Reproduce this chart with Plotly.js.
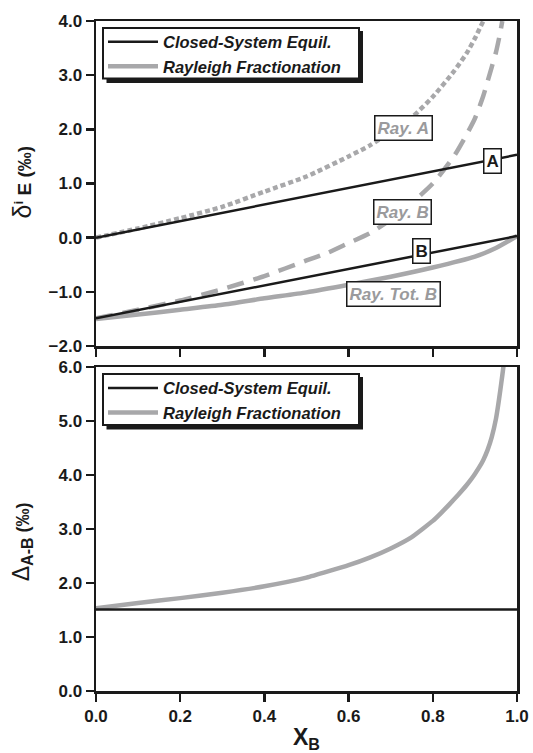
<!DOCTYPE html>
<html>
<head>
<meta charset="utf-8">
<script src="https://cdn.plot.ly/plotly-3.0.1.min.js"></script>
<style>html,body{margin:0;padding:0;background:#fff;}</style>
</head>
<body>
<div id="chart" style="width:533px;height:753px;"></div>
<script>
// ---------- data ----------
var xClosed = [0, 1];
var closedA = [0.0, 1.53];
var closedB = [-1.49, 0.03];

var xRayA = [0, 0.1, 0.2, 0.3, 0.4, 0.5, 0.6, 0.65, 0.7, 0.75, 0.8, 0.85, 0.88, 0.9, 0.92];
var rayA  = [0, 0.17, 0.36, 0.57, 0.85, 1.13, 1.50, 1.70, 1.95, 2.22, 2.60, 3.07, 3.40, 3.68, 4.0];

var xRayB = [0, 0.1, 0.2, 0.3, 0.4, 0.5, 0.55, 0.6, 0.65, 0.7, 0.75, 0.8, 0.85, 0.88, 0.9, 0.92, 0.94, 0.95, 0.96, 0.965];
var rayB  = [-1.49, -1.33, -1.16, -0.95, -0.71, -0.42, -0.28, -0.10, 0.08, 0.33, 0.64, 1.00, 1.50, 1.90, 2.20, 2.62, 3.15, 3.42, 3.78, 4.0];

var xRayTotB = [0, 0.1, 0.2, 0.3, 0.4, 0.5, 0.6, 0.7, 0.8, 0.9, 0.95, 1.0];
var rayTotB  = [-1.50, -1.42, -1.33, -1.24, -1.12, -1.01, -0.87, -0.72, -0.55, -0.35, -0.19, 0.03];

var xDelta = [0, 1];
var deltaClosed = [1.51, 1.51];

var xDeltaRay = [0, 0.1, 0.2, 0.3, 0.4, 0.5, 0.6, 0.65, 0.7, 0.75, 0.8, 0.82, 0.84, 0.86, 0.88, 0.89, 0.9, 0.91, 0.92, 0.93, 0.94, 0.95, 0.955, 0.96, 0.965, 0.968];
var deltaRay  = [1.53, 1.63, 1.72, 1.82, 1.94, 2.10, 2.33, 2.47, 2.64, 2.85, 3.15, 3.30, 3.46, 3.63, 3.81, 3.91, 4.02, 4.14, 4.28, 4.46, 4.70, 5.04, 5.28, 5.55, 5.84, 6.02];

var legendNames = ['Closed-System Equil.', 'Rayleigh Fractionation'];
var curveLabels = ['Ray. A', 'A', 'Ray. B', 'B', 'Ray. Tot. B'];
var labelX = [0.730, 0.942, 0.728, 0.774, 0.707];
var labelY = [2.02, 1.41, 0.47, -0.25, -1.04];

var xTicks = [0, 0.2, 0.4, 0.6, 0.8, 1.0];

// ---------- styles ----------
var BLACK = '#1a1a1a';
var GRAY = '#a8a8aa';
var FONT = '"Liberation Sans", Arial, Helvetica, sans-serif';
var W = 533, H = 753, ML = 96, MR = 16, MT = 21, MB = 62;
var PW = W - ML - MR, PH = H - MT - MB;
function px2x(p) { return (p - ML) / PW; }
function px2y(p) { return (H - MB - p) / PH; }

var traces = [
  {x: xRayA, y: rayA, xaxis: 'x', yaxis: 'y', mode: 'lines', showlegend: false,
   line: {color: GRAY, width: 4.5, dash: '5px,3px', shape: 'spline', smoothing: 0.6}},
  {x: xRayB, y: rayB, xaxis: 'x', yaxis: 'y', mode: 'lines', showlegend: false,
   line: {color: GRAY, width: 4.5, dash: '17px,10px', shape: 'spline', smoothing: 0.6}},
  {x: xRayTotB, y: rayTotB, xaxis: 'x', yaxis: 'y', mode: 'lines', name: legendNames[1],
   legend: 'legend', legendrank: 2,
   line: {color: GRAY, width: 4.5, shape: 'spline', smoothing: 0.6}},
  {x: xClosed, y: closedA, xaxis: 'x', yaxis: 'y', mode: 'lines', name: legendNames[0],
   legend: 'legend', legendrank: 1,
   line: {color: BLACK, width: 2.5}},
  {x: xClosed, y: closedB, xaxis: 'x', yaxis: 'y', mode: 'lines', showlegend: false,
   line: {color: BLACK, width: 2.5}},
  {x: xDeltaRay, y: deltaRay, xaxis: 'x2', yaxis: 'y2', mode: 'lines', name: legendNames[1],
   legend: 'legend2', legendrank: 2,
   line: {color: GRAY, width: 4.5, shape: 'spline', smoothing: 0.4}},
  {x: xDelta, y: deltaClosed, xaxis: 'x2', yaxis: 'y2', mode: 'lines', name: legendNames[0],
   legend: 'legend2', legendrank: 1,
   line: {color: BLACK, width: 2.5}}
];

function axisBase() {
  return {
    showline: true, linewidth: 2.5, linecolor: BLACK, mirror: true,
    ticks: 'outside', ticklen: 8, tickwidth: 2.5, tickcolor: BLACK,
    showgrid: false, zeroline: false, fixedrange: true,
    tickfont: {family: FONT, size: 17, weight: 'bold', color: BLACK}
  };
}

var xa = axisBase();
Object.assign(xa, {anchor: 'y', domain: [0, 1], range: [0, 1], tickvals: xTicks, showticklabels: false});
var xa2 = axisBase();
Object.assign(xa2, {anchor: 'y2', domain: [0, 1], range: [0, 1], tickvals: xTicks, tickformat: '.1f'});
var ya = axisBase();
Object.assign(ya, {anchor: 'x', domain: [px2y(346), 1], range: [-2, 4], dtick: 1, tick0: 0, tickformat: '.1f'});
var ya2 = axisBase();
Object.assign(ya2, {anchor: 'x2', domain: [0, px2y(367)], range: [0, 6], dtick: 1, tick0: 0, tickformat: '.1f'});

function legendBox(ytopPx) {
  return {
    x: px2x(103), y: px2y(ytopPx), xanchor: 'left', yanchor: 'top',
    bgcolor: 'rgba(0,0,0,0)', borderwidth: 0,
    font: {family: FONT, size: 16.5, weight: 'bold', style: 'italic', color: BLACK},
    itemwidth: 50, traceorder: 'normal', tracegroupgap: 0
  };
}

// legend frames with drop shadow (pixel positions of box edges)
function frame(top, bottom) {
  return [
    {type: 'rect', xref: 'paper', yref: 'paper', layer: 'above',
     x0: px2x(106.5), x1: px2x(363), y0: px2y(bottom + 4.5), y1: px2y(top + 3),
     fillcolor: BLACK, line: {width: 0}},
    {type: 'rect', xref: 'paper', yref: 'paper', layer: 'above',
     x0: px2x(103), x1: px2x(359), y0: px2y(bottom), y1: px2y(top),
     fillcolor: 'white', line: {color: BLACK, width: 2}}
  ];
}
var shapes = frame(28, 78.5).concat(frame(374, 425));

var annotations = [];
for (var i = 0; i < curveLabels.length; i++) {
  var isLetter = curveLabels[i].length === 1;
  annotations.push({
    xref: 'x', yref: 'y', x: labelX[i], y: labelY[i], text: curveLabels[i],
    showarrow: false, bgcolor: 'white', bordercolor: BLACK, borderwidth: 1.5, borderpad: 2,
    font: {family: FONT, size: 17, weight: 'bold', style: isLetter ? 'normal' : 'italic',
           color: isLetter ? BLACK : '#9a9a9c'}
  });
}
// axis titles
annotations.push({
  xref: 'paper', yref: 'paper', x: px2x(22), y: 0.759, xanchor: 'center', yanchor: 'middle',
  textangle: -90, showarrow: false,
  text: '<span style="font-size:25px;font-weight:normal">δ</span><sup>i</sup><span style="font-size:19px"> E (‰)</span>',
  font: {family: FONT, size: 19, weight: 'bold', color: BLACK}
});
annotations.push({
  xref: 'paper', yref: 'paper', x: px2x(22), y: 0.222, xanchor: 'center', yanchor: 'middle',
  textangle: -90, showarrow: false,
  text: '<span style="font-size:23px;font-weight:normal">Δ</span><sub><span style="font-size:16px">A-B</span></sub><span style="font-size:18px"> (‰)</span>',
  font: {family: FONT, size: 18, weight: 'bold', color: BLACK}
});
annotations.push({
  xref: 'paper', yref: 'paper', x: 0.5, y: -0.047, xanchor: 'center', yanchor: 'top',
  showarrow: false, text: 'X<sub>B</sub>',
  font: {family: FONT, size: 23, weight: 'bold', color: BLACK}
});

var layout = {
  width: W, height: H,
  margin: {l: ML, r: MR, t: MT, b: MB, pad: 0},
  paper_bgcolor: 'white', plot_bgcolor: 'white',
  font: {family: FONT, color: BLACK},
  showlegend: true,
  xaxis: xa, yaxis: ya, xaxis2: xa2, yaxis2: ya2,
  legend: legendBox(24.5),
  legend2: legendBox(370.8),
  shapes: shapes,
  annotations: annotations
};

Plotly.newPlot('chart', traces, layout, {displayModeBar: false, staticPlot: true});
</script>
</body>
</html>
